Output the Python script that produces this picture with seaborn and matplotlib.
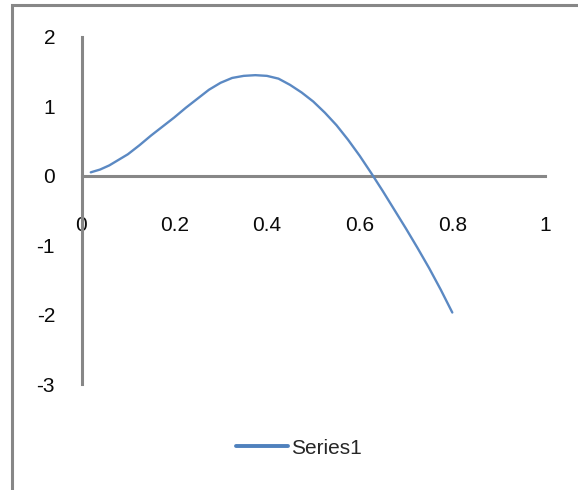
import matplotlib
matplotlib.use("Agg")
import matplotlib.pyplot as plt
import seaborn as sns
import pandas as pd
from matplotlib.patches import Rectangle

# Series values
x_values = [0.02, 0.04, 0.06, 0.08, 0.10, 0.125, 0.15, 0.175, 0.20, 0.225,
            0.25, 0.275, 0.30, 0.325, 0.35, 0.375, 0.40, 0.425, 0.45, 0.475,
            0.50, 0.525, 0.55, 0.575, 0.60, 0.625, 0.65, 0.675, 0.70, 0.725,
            0.75, 0.775, 0.80]
y_values = [0.05, 0.09, 0.15, 0.23, 0.31, 0.44, 0.58, 0.71, 0.84, 0.98,
            1.11, 1.24, 1.34, 1.41, 1.44, 1.45, 1.44, 1.40, 1.31, 1.20,
            1.07, 0.91, 0.73, 0.52, 0.29, 0.04, -0.22, -0.49, -0.76, -1.04,
            -1.33, -1.64, -1.97]
series_name = "Series1"

x_ticks = [0, 0.2, 0.4, 0.6, 0.8, 1]
x_tick_labels = ["0", "0.2", "0.4", "0.6", "0.8", "1"]
y_ticks = [-3, -2, -1, 0, 1, 2]
y_tick_labels = ["-3", "-2", "-1", "0", "1", "2"]

df = pd.DataFrame({"x": x_values, "y": y_values, "series": series_name})

sns.set_theme(style="white")
plt.rcParams["font.family"] = ["Liberation Sans", "DejaVu Sans"]

W, H = 578, 490
fig = plt.figure(figsize=(W / 100, H / 100), dpi=100)
fig.patch.set_facecolor("white")

# Chart-area frame
fig.add_artist(Rectangle((11.5 / W, -0.1), 1.2, 1 - 5.5 / H + 0.1,
                         transform=fig.transFigure, fill=False,
                         edgecolor="#878787", linewidth=2.2))

ax = fig.add_axes([81.5 / W, (H - 384) / H, 463.5 / W, (384 - 37) / H])
ax.set_facecolor("white")

sns.lineplot(data=df, x="x", y="y", hue="series", palette=["#5b89c3"],
             linewidth=1.7, ax=ax, legend=True)

ax.set_xlim(0, 1)
ax.set_ylim(-3, 2)
ax.set_xticks(x_ticks)
ax.set_xticklabels(x_tick_labels)
ax.set_yticks(y_ticks)
ax.set_yticklabels(y_tick_labels)
ax.set_xlabel("")
ax.set_ylabel("")

for side in ("top", "right"):
    ax.spines[side].set_visible(False)
ax.spines["bottom"].set_position(("data", 0))
ax.spines["left"].set_position(("data", 0))
for side in ("bottom", "left"):
    ax.spines[side].set_color("#878787")
    ax.spines[side].set_linewidth(2.2)
    ax.spines[side].set_zorder(1)

ax.tick_params(axis="x", length=0, pad=29, labelsize=15, labelcolor="#0a0a0a")
ax.tick_params(axis="y", length=0, pad=19, labelsize=15, labelcolor="#0a0a0a")
for lab in ax.get_yticklabels():
    lab.set_horizontalalignment("right")

ax.legend(loc="center", bbox_to_anchor=(299 / W, 1 - 448 / H),
          bbox_transform=fig.transFigure, frameon=False,
          handlelength=2.5, handletextpad=0.15, fontsize=15)
for line in ax.get_legend().get_lines():
    line.set_linewidth(2.8)
    line.set_color("#4f81bd")

fig.savefig("out.png", dpi=100, facecolor="white")
